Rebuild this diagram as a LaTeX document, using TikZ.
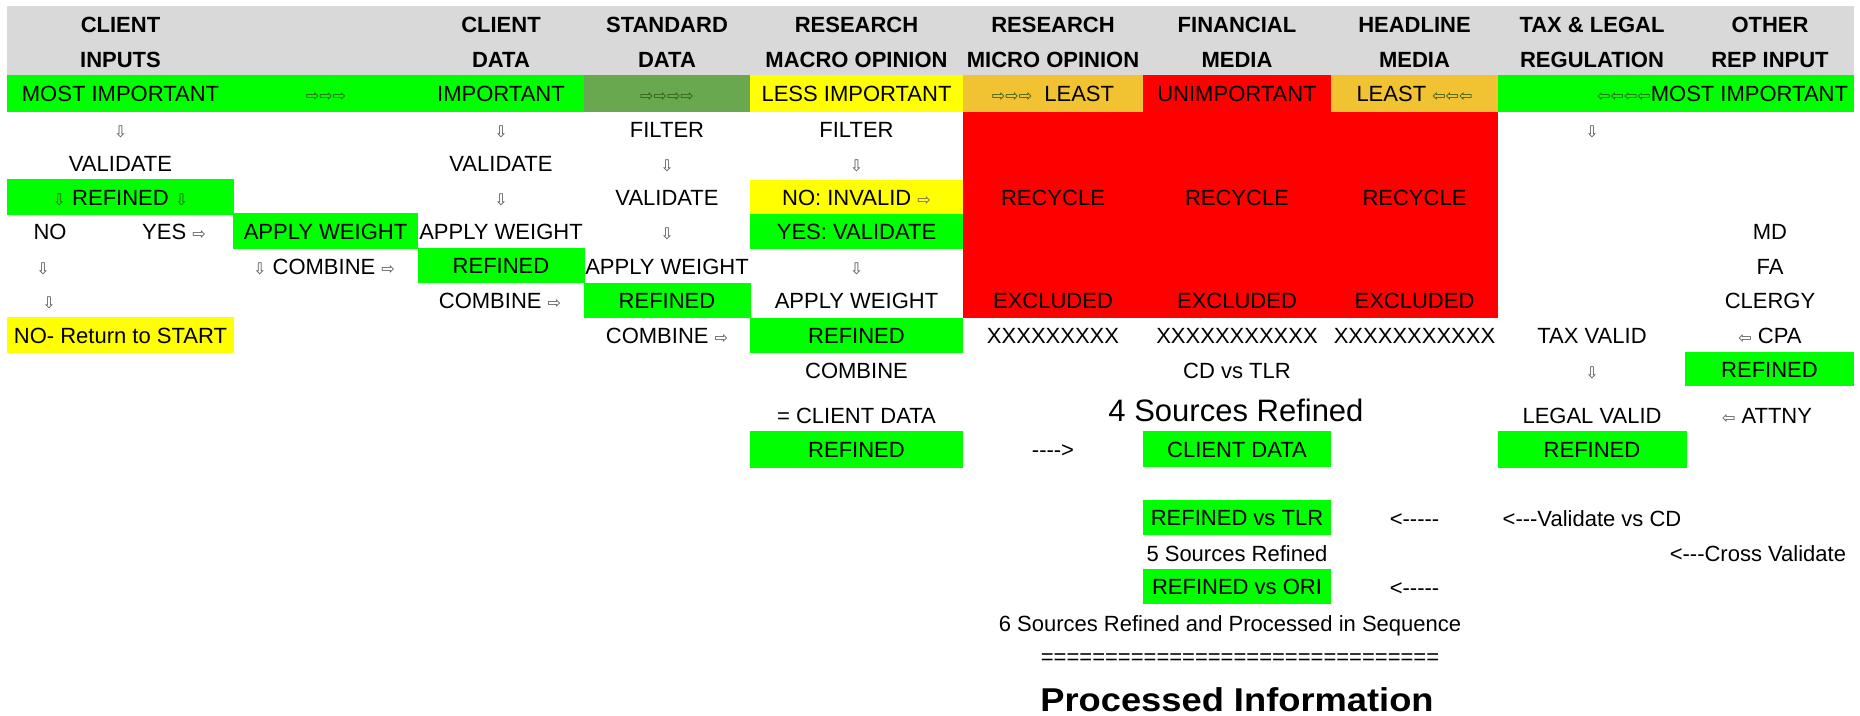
\documentclass[tikz,border=0pt]{standalone}
\usepackage{fontspec}
\setmainfont{Liberation Sans}
\newfontfamily\arfont{DejaVu Sans}
\definecolor{xgreen}{HTML}{00FF00}
\definecolor{dgreen}{HTML}{6AA84F}
\definecolor{xorange}{HTML}{F1C232}
\definecolor{xyellow}{HTML}{FFFF00}
\definecolor{xred}{HTML}{FF0000}
\definecolor{hgray}{HTML}{D9D9D9}
\definecolor{argray}{HTML}{555555}
\definecolor{ardk}{HTML}{2F5A14}
\newcommand{\xra}[1][argray]{{\arfont\fontsize{16bp}{16bp}\selectfont\textcolor{#1}{⇨}}}
\newcommand{\xla}[1][argray]{{\arfont\fontsize{16bp}{16bp}\selectfont\textcolor{#1}{⇦}}}
\newcommand{\xda}[1][argray]{{\arfont\fontsize{16bp}{16bp}\selectfont\textcolor{#1}{⇩}}}
\newcommand{\hy}{-\kern0pt}
\tikzset{
  txt/.style={inner sep=0pt, outer sep=0pt, font=\fontsize{22bp}{26bp}\selectfont, text height=16bp, text depth=0pt},
  hdr/.style={txt, font=\bfseries\fontsize{22bp}{26bp}\selectfont},
  box/.style={txt, minimum height=#1},
  box/.default=35bp
}
\begin{document}
\begin{tikzpicture}[x=1bp,y=-1bp]
\fill[white] (0,0) rectangle (1860,716);
\useasboundingbox (0,0) rectangle (1860,716);
% header
\node[inner sep=0pt, fill=hgray, minimum width=1847bp, minimum height=69bp] (hdrbar) at (930.5,40.5) {};
\node[hdr] (hA1) at (120.5,25) {CLIENT};
\node[hdr] (hA2) at (120.5,60) {INPUTS};
\node[hdr] (hC1) at (501,25) {CLIENT};
\node[hdr] (hC2) at (501,60) {DATA};
\node[hdr] (hD1) at (667,25) {STANDARD};
\node[hdr] (hD2) at (667,60) {DATA};
\node[hdr] (hE1) at (856.5,25) {RESEARCH};
\node[hdr] (hE2) at (856.5,60) {MACRO OPINION};
\node[hdr] (hF1) at (1053,25) {RESEARCH};
\node[hdr] (hF2) at (1053,60) {MICRO OPINION};
\node[hdr] (hG1) at (1237,25) {FINANCIAL};
\node[hdr] (hG2) at (1237,60) {MEDIA};
\node[hdr] (hH1) at (1414.5,25) {HEADLINE};
\node[hdr] (hH2) at (1414.5,60) {MEDIA};
\node[hdr] (hI1) at (1592,25) {TAX \& LEGAL};
\node[hdr] (hI2) at (1592,60) {REGULATION};
\node[hdr] (hJ1) at (1770,25) {OTHER};
\node[hdr] (hJ2) at (1770,60) {REP INPUT};
% row 1
\node[box=37bp, fill=xgreen, minimum width=577bp] (r1g) at (295.5,93.5) {};
\node[box=37bp, fill=dgreen, minimum width=166bp] (r1d) at (667,93.5) {\xra[ardk]\xra[ardk]\xra[ardk]\xra[ardk]};
\node[box=37bp, fill=xyellow, minimum width=213bp] (r1e) at (856.5,93.5) {LESS IMPORTANT};
\node[box=37bp, fill=xorange, minimum width=180bp] (r1f) at (1053,93.5) {\xra[ardk]\xra[ardk]\xra[ardk]\ \ LEAST};
\node[box=37bp, fill=xred, minimum width=188bp] (r1g2) at (1237,93.5) {UNIMPORTANT};
\node[box=37bp, fill=xorange, minimum width=167bp] (r1h) at (1414.5,93.5) {LEAST \xla[ardk]\xla[ardk]\xla[ardk]};
\node[box=37bp, fill=xgreen, minimum width=356bp] (r1ij) at (1676,93.5) {};
\node[txt] (r1a) at (120.5,93.5) {MOST IMPORTANT};
\node[txt] (r1b) at (326,93.5) {\xra[ardk]\xra[ardk]\xra[ardk]};
\node[txt] (r1c) at (501,93.5) {IMPORTANT};
\node[txt, anchor=east] (r1ijt) at (1848,93.5) {\xla[ardk]\xla[ardk]\xla[ardk]\xla[ardk]MOST IMPORTANT};
% red block
\node[inner sep=0pt, fill=xred, minimum width=535bp, minimum height=206bp] (redblk) at (1230.5,215) {};
% row 2
\node[txt] (r2a) at (120.5,129.5) {\xda};
\node[txt] (r2c) at (501,129.5) {\xda};
\node[txt] (r2d) at (667,129.5) {FILTER};
\node[txt] (r2e) at (856.5,129.5) {FILTER};
\node[txt] (r2i) at (1592,129.5) {\xda};
% row 3
\node[txt] (r3a) at (120.5,163.5) {VALIDATE};
\node[txt] (r3c) at (501,163.5) {VALIDATE};
\node[txt] (r3d) at (667,163.5) {\xda};
\node[txt] (r3e) at (856.5,163.5) {\xda};
% row 4
\node[box=35bp, fill=xgreen, minimum width=227bp] (r4a) at (120.5,197) {\xda[ardk] REFINED \xda[ardk]};
\node[txt] (r4c) at (501,197) {\xda};
\node[txt] (r4d) at (667,197) {VALIDATE};
\node[box=34bp, fill=xyellow, minimum width=213bp] (r4e) at (856.5,197) {NO: INVALID \xra[black!60]};
\node[txt] (r4f) at (1053,197) {RECYCLE};
\node[txt] (r4g) at (1237,197) {RECYCLE};
\node[txt] (r4h) at (1414.5,197) {RECYCLE};
% row 5
\node[txt] (r5no) at (50,231.5) {NO};
\node[txt] (r5yes) at (174,231.5) {YES \xra};
\node[box=36bp, fill=xgreen, minimum width=185bp] (r5b) at (325.5,231) {APPLY WEIGHT};
\node[txt] (r5c) at (501,231.5) {APPLY WEIGHT};
\node[txt] (r5d) at (667,231.5) {\xda};
\node[box=35bp, fill=xgreen, minimum width=213bp] (r5e) at (856.5,231.5) {YES: VALIDATE};
\node[txt] (r5j) at (1770,231.5) {MD};
% row 6
\node[txt] (r6a) at (43,266) {\xda};
\node[txt] (r6b) at (324,266) {\xda\ COMBINE \xra};
\node[box=35bp, fill=xgreen, minimum width=167bp] (r6c) at (501,265.5) {REFINED};
\node[txt] (r6d) at (667,266) {APPLY WEIGHT};
\node[txt] (r6e) at (856.5,266) {\xda};
\node[txt] (r6j) at (1770,266) {FA};
% row 7
\node[txt] (r7a) at (49,300.5) {\xda};
\node[txt] (r7c) at (500,300.5) {COMBINE \xra};
\node[box=35bp, fill=xgreen, minimum width=167bp] (r7d) at (667,300.5) {REFINED};
\node[txt] (r7e) at (856.5,300.5) {APPLY WEIGHT};
\node[txt] (r7f) at (1053,300.5) {EXCLUDED};
\node[txt] (r7g) at (1237,300.5) {EXCLUDED};
\node[txt] (r7h) at (1414.5,300.5) {EXCLUDED};
\node[txt] (r7j) at (1770,300.5) {CLERGY};
% row 8
\node[box=36bp, fill=xyellow, minimum width=227bp] (r8a) at (120.5,335) {NO- Return to START};
\node[txt] (r8d) at (667,335.5) {COMBINE \xra};
\node[box=35bp, fill=xgreen, minimum width=213bp] (r8e) at (856.5,335.5) {REFINED};
\node[txt] (r8f) at (1053,335.5) {XXXXXXXXX};
\node[txt] (r8g) at (1237,335.5) {XXXXXXXXXXX};
\node[txt] (r8h) at (1414.5,335.5) {XXXXXXXXXXX};
\node[txt] (r8i) at (1592,335.5) {TAX VALID};
\node[txt] (r8j) at (1770,335.5) {\xla\ CPA};
% row 9
\node[txt] (r9e) at (856.5,370.5) {COMBINE};
\node[txt] (r9g) at (1237,370.5) {CD vs TLR};
\node[txt] (r9i) at (1592,370.5) {\xda};
\node[box=34bp, fill=xgreen, minimum width=169bp] (r9j) at (1769.5,369) {REFINED};
% row 10
\node[txt] (r10e) at (856.5,415) {= CLIENT DATA};
\node[inner sep=0pt, font=\fontsize{31bp}{36bp}\selectfont, text height=22bp, text depth=0pt] (r10g) at (1236,410) {4 Sources Refined};
\node[txt] (r10i) at (1592,415) {LEGAL VALID};
\node[txt] (r10j) at (1767,415) {\xla\ ATTNY};
% row 11
\node[box=37bp, fill=xgreen, minimum width=213bp] (r11e) at (856.5,449.5) {REFINED};
\node[txt] (r11f) at (1053,449.5) {\hy\hy\hy\hy>};
\node[box=36bp, fill=xgreen, minimum width=188bp] (r11g) at (1237,449) {CLIENT DATA};
\node[box=37bp, fill=xgreen, minimum width=189bp] (r11i) at (1592,449.5) {REFINED};
% lower rows
\node[box=35bp, fill=xgreen, minimum width=188bp] (r13g) at (1237,517.5) {REFINED vs TLR};
\node[txt] (r13h) at (1414.5,518) {<\hy\hy\hy\hy\hy};
\node[txt] (r13i) at (1592,518) {<\hy\hy\hy Validate vs CD};
\node[txt] (r14g) at (1237,553.5) {5 Sources Refined};
\node[txt, anchor=east] (r14j) at (1846,553.5) {<\hy\hy\hy Cross Validate};
\node[box=35bp, fill=xgreen, minimum width=188bp] (r15g) at (1237,586.5) {REFINED vs ORI};
\node[txt] (r15h) at (1414.5,587) {<\hy\hy\hy\hy\hy};
\node[txt] (r16) at (1230,623.5) {6 Sources Refined and Processed in Sequence};
\node[txt] (r17) at (1240,656) {===============================};
\node[inner sep=0pt, font=\bfseries\fontsize{33bp}{38bp}\selectfont, text height=24bp, text depth=0pt] (r18) at (1237,699.5) {\scalebox{1.1}[1]{Processed Information}};
\end{tikzpicture}
\end{document}
